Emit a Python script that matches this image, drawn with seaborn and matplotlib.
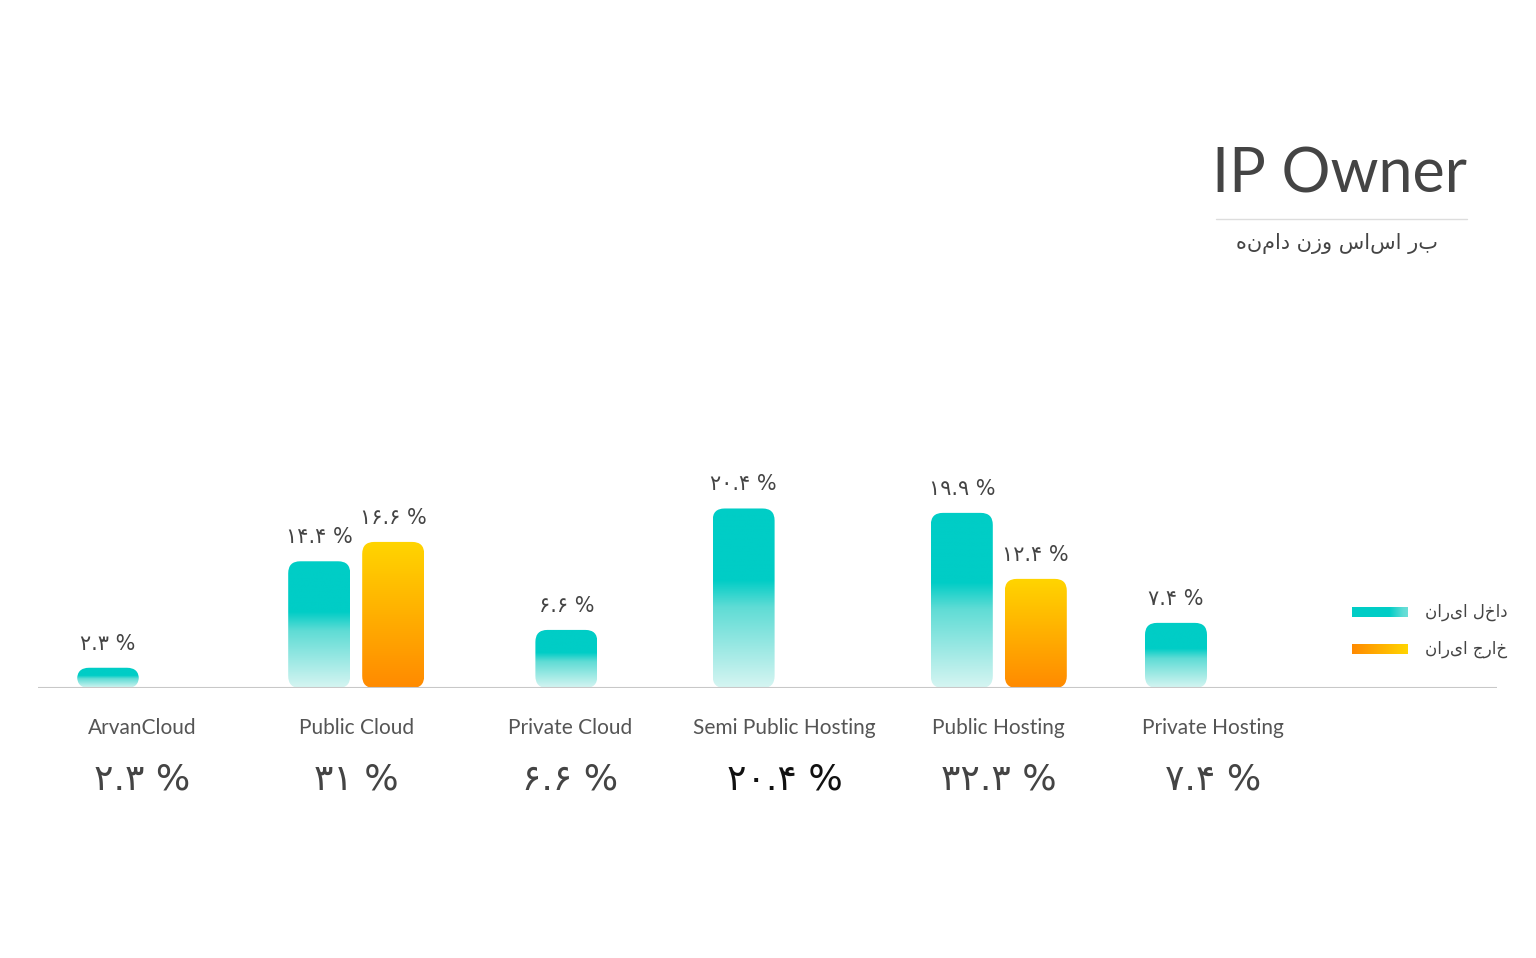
import numpy as np
import pandas as pd
import matplotlib
matplotlib.use("Agg")
import matplotlib.pyplot as plt
import seaborn as sns
from matplotlib.patches import FancyBboxPatch
from matplotlib.colors import LinearSegmentedColormap

categories = ["ArvanCloud", "Public Cloud", "Private Cloud", "Semi Public Hosting", "Public Hosting", "Private Hosting"]
inside_iran = [2.3, 14.4, 6.6, 20.4, 19.9, 7.4]
outside_iran = [None, 16.6, None, None, 12.4, None]
totals = ["۲.۳", "۳۱", "۶.۶", "۲۰.۴", "۳۲.۳", "۷.۴"]
inside_labels = ["۲.۳", "۱۴.۴", "۶.۶", "۲۰.۴", "۱۹.۹", "۷.۴"]
outside_labels = [None, "۱۶.۶", None, None, "۱۲.۴", None]
legend_labels = ["داخل ایران", "خارج ایران"]
title = "IP Owner"
subtitle = "بر اساس وزن دامنه"

def vis(s):  # visual RTL order for matplotlib (no bidi support)
    return s[::-1]

sns.set_theme(style="white")
plt.rcParams['font.family'] = ['Lato', 'DejaVu Sans']

W, H = 1536, 958
fig = plt.figure(figsize=(W/100, H/100), dpi=100)
ax = fig.add_axes([38/W, (H-688)/H, 1459/W, 220/H])

centers = [142 + i*214.2 for i in range(len(categories))]
teal_off = [-34, -37, -4, -41, -37, -37]
rows = []
for i, c in enumerate(categories):
    rows.append(dict(x=centers[i]+teal_off[i], v=inside_iran[i], s="in", lab=inside_labels[i]))
    if outside_iran[i] is not None:
        rows.append(dict(x=centers[i]+37, v=outside_iran[i], s="out", lab=outside_labels[i]))
df = pd.DataFrame(rows)
spacing = np.diff(np.sort(df.x.values)).min()

sns.barplot(data=df, x="x", y="v", native_scale=True, width=62/spacing, ax=ax,
            color="#00ccc4", errorbar=None)
ax.set_xlim(38, 1497)
ax.set_ylim(0, 25)

teal = LinearSegmentedColormap.from_list("t", [(0, "#d6f5f2"), (0.45, "#5fdcd5"), (0.6, "#00cdc6"), (1, "#00cdc6")])
orng = LinearSegmentedColormap.from_list("o", [(0, "#ff8a00"), (1, "#ffd500")])
grad = np.linspace(0, 1, 256).reshape(-1, 1)

patches = sorted(list(ax.patches), key=lambda p: p.get_x())
for p in patches:
    x0, w, h = p.get_x(), p.get_width(), p.get_height()
    p.set_visible(False)
    r = df.iloc[(df.x - (x0 + w/2)).abs().argmin()]
    clip = FancyBboxPatch((x0, 0), w, h, boxstyle="round,pad=0,rounding_size=12",
                          mutation_aspect=25/220, transform=ax.transData,
                          facecolor="none", edgecolor="none")
    ax.add_patch(clip)
    im = ax.imshow(grad, cmap=teal if r.s == "in" else orng, origin="lower",
                   extent=(x0, x0+w, 0, h), aspect="auto", zorder=2)
    im.set_clip_path(clip)
    ax.text(x0 + w/2, h + 1.6, r.lab + " %", ha="center", va="bottom",
            fontsize=15, color="#444444", family=["DejaVu Sans"])

ax.set_xlim(38, 1497)
ax.set_ylim(0, 25)
ax.axhline(0, color="#c8c8c8", lw=1.5, zorder=3)
ax.axis("off")

for i, c in enumerate(categories):
    fig.text(centers[i]/W, 1-728/H, c, ha="center", va="center", fontsize=15, color="#555555")
    fig.text(centers[i]/W, 1-780/H, totals[i] + " %", ha="center", va="center", fontsize=26,
             color="#111111" if i == 3 else "#444444", family=["DejaVu Sans"])

fig.text(1467/W, 1-175/H, title, ha="right", va="center", fontsize=44, color="#444444")
fig.add_artist(plt.Line2D([1216/W, 1467/W], [1-219/H, 1-219/H], color="#dddddd", lw=1))
fig.text(1438/W, 1-244/H, vis(subtitle), ha="right", va="center", fontsize=15, color="#444444", family=["DejaVu Sans"])

for k, (yy, cm) in enumerate([(612, teal), (649, orng)]):
    lax = fig.add_axes([1352/W, 1-(yy+5)/H, 56/W, 10/H])
    arr = np.linspace(0, 1, 256).reshape(1, -1)
    lax.imshow(arr[:, ::-1] * 0.6 + 0.4 if k == 0 else arr, cmap=cm, aspect="auto",
               extent=(0, 1, 0, 1), vmin=0, vmax=1)
    lax.axis("off")
    fig.text(1425/W, 1-yy/H, vis(legend_labels[k]), ha="left", va="center", fontsize=12, color="#444444", family=["DejaVu Sans"])

fig.savefig("out.png", dpi=100, facecolor="white")
